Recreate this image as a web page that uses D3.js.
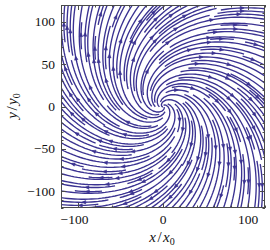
<!DOCTYPE html>
<html>
<head>
<meta charset="utf-8">
<script src="https://cdn.jsdelivr.net/npm/d3@7"></script>
<style>
  body { margin: 0; background: #fff; }
  text { font-family: "Liberation Serif", "Times New Roman", serif; fill: #111; }
</style>
</head>
<body>
<svg id="chart" width="270" height="250"></svg>
<script>
// ---- data ----
const xDomain = [-120, 120];
const yDomain = [-120, 120];
const xTicks = [-100, 0, 100];
const yTicks = [-100, -50, 0, 50, 100];
const xMinorStep = [20];
const yMinorStep = [10];
// spiral field: u = g*x + y, v = g*y - x  (outward, clockwise)
const spiralGrowth = [0.85];
const streamDensity = [2];
const gridPoints = [100];

const lineColor = "#3a3291";
const frameColor = "#4a4a4a";

// ---- layout ----
const svg = d3.select("#chart");
const L = 61, R = 265, T = 5, B = 208;
const xs = d3.scaleLinear().domain(xDomain).range([L, R]);
const ys = d3.scaleLinear().domain(yDomain).range([B, T]);

//++++++++++++++++++++++++++++++++++++++++++++++++++\\
//        streamplot (port of matplotlib's)         \\
//++++++++++++++++++++++++++++++++++++++++++++++++++\\

const g = spiralGrowth[0];
function field(xd, yd) { return [g * xd + yd, g * yd - xd]; }

const gn = gridPoints[0];
const gdx = (xDomain[1] - xDomain[0]) / (gn - 1);
const gdy = (yDomain[1] - yDomain[0]) / (gn - 1);
const mn = Math.floor(30 * streamDensity[0]);
const mask = new Uint8Array(mn * mn);
const grid2maskF = (mn - 1) / (gn - 1);
const mask2gridF = 1 / grid2maskF;

let curXY = null, trajCells = [];

const OUT = "out", TERM = "term";

function within(xi, yi) { return xi >= 0 && xi <= gn - 1 && yi >= 0 && yi <= gn - 1; }
function grid2mask(xi, yi) { return [Math.round(xi * grid2maskF), Math.round(yi * grid2maskF)]; }

// returns false if the cell is taken
function updateMask(xm, ym) {
  if (curXY && curXY[0] == xm && curXY[1] == ym) return true;
  const k = ym * mn + xm;
  if (mask[k] == 0) {
    trajCells.push(k);
    mask[k] = 1;
    curXY = [xm, ym];
    return true;
  }
  return false;
}

function f(xi, yi, sign) {
  if (!within(xi, yi)) return OUT;
  const xd = xDomain[0] + xi * gdx, yd = yDomain[0] + yi * gdy;
  let [u, v] = field(xd, yd);
  u = u / gdx; v = v / gdy;
  const sp = Math.hypot(u / (gn - 1), v / (gn - 1));
  if (sp == 0) return TERM;
  return [sign * u / sp, sign * v / sp];
}

function eulerStep(traj, sign) {
  const [xi, yi] = traj[traj.length - 1];
  const c = f(xi, yi, sign);
  if (typeof c == "string") return 0;
  const [cx, cy] = c;
  let dsx = Infinity, dsy = Infinity;
  if (cx < 0) dsx = xi / -cx; else if (cx > 0) dsx = (gn - 1 - xi) / cx;
  if (cy < 0) dsy = yi / -cy; else if (cy > 0) dsy = (gn - 1 - yi) / cy;
  const ds = Math.min(dsx, dsy);
  traj.push([xi + cx * ds, yi + cy * ds]);
  return ds;
}

function rk12(x0, y0, sign, maxlength) {
  const maxerror = 0.003;
  const maxds = Math.min(1 / mn, 0.1);
  let ds = maxds, stotal = 0, xi = x0, yi = y0;
  const traj = [];
  while (true) {
    if (!within(xi, yi)) { if (traj.length) stotal += eulerStep(traj, sign); break; }
    traj.push([xi, yi]);
    const k1 = f(xi, yi, sign);
    if (k1 == TERM) break;
    const k2 = f(xi + ds * k1[0], yi + ds * k1[1], sign);
    if (k2 == OUT) { stotal += eulerStep(traj, sign); break; }
    if (k2 == TERM) break;
    const dx1 = ds * k1[0], dy1 = ds * k1[1];
    const dx2 = ds * 0.5 * (k1[0] + k2[0]), dy2 = ds * 0.5 * (k1[1] + k2[1]);
    const err = Math.hypot((dx2 - dx1) / (gn - 1), (dy2 - dy1) / (gn - 1));
    if (err < maxerror) {
      xi += dx2; yi += dy2;
      if (!within(xi, yi)) break;
      const [xm, ym] = grid2mask(xi, yi);
      if (!updateMask(xm, ym)) break;
      if (stotal + ds > maxlength) break;
      stotal += ds;
    }
    ds = err == 0 ? maxds : Math.min(maxds, 0.85 * ds * Math.sqrt(maxerror / err));
  }
  return { s: stotal, traj };
}

function integrate(x0, y0) {
  const minlength = 0.1, maxlength = 4.0;
  trajCells = []; curXY = null;
  const [xm, ym] = grid2mask(x0, y0);
  if (!updateMask(xm, ym)) return null;
  let stotal = 0;
  const back = rk12(x0, y0, -1, maxlength);
  stotal += back.s;
  let pts = back.traj.slice().reverse();
  curXY = grid2mask(x0, y0);
  const fwd = rk12(x0, y0, 1, maxlength);
  stotal += fwd.s;
  pts = pts.concat(fwd.traj.slice(1));
  if (stotal > minlength) return pts;
  trajCells.forEach(k => mask[k] = 0);
  return null;
}

function* startingPoints(n) {
  let xfirst = 0, yfirst = 1, xlast = n - 1, ylast = n - 1, x = 0, y = 0, dir = "right";
  for (let i = 0; i < n * n; i++) {
    yield [x, y];
    if (dir == "right") { x += 1; if (x >= xlast) { xlast -= 1; dir = "up"; } }
    else if (dir == "up") { y += 1; if (y >= ylast) { ylast -= 1; dir = "left"; } }
    else if (dir == "left") { x -= 1; if (x <= xfirst) { xfirst += 1; dir = "down"; } }
    else { y -= 1; if (y <= yfirst) { yfirst += 1; dir = "right"; } }
  }
}

const trajectories = [];
for (const [xm, ym] of startingPoints(mn)) {
  if (mask[ym * mn + xm] == 0) {
    const t = integrate(xm * mask2gridF, ym * mask2gridF);
    if (t) trajectories.push(t.map(([a, b]) => [xDomain[0] + a * gdx, yDomain[0] + b * gdy]));
  }
}

//++++++++++++++++++++++++++++++++++++++++++++++++++\\
//                    Drawing                       \\
//++++++++++++++++++++++++++++++++++++++++++++++++++\\

svg.append("defs").append("clipPath").attr("id", "clip")
  .append("rect").attr("x", L).attr("y", T).attr("width", R - L).attr("height", B - T);

const plot = svg.append("g").attr("clip-path", "url(#clip)");
const line = d3.line().x(d => xs(d[0])).y(d => ys(d[1]));

plot.selectAll("path.stream").data(trajectories).enter()
  .append("path")
  .attr("class", "stream")
  .attr("d", line)
  .attr("fill", "none")
  .attr("stroke", lineColor)
  .attr("stroke-width", 1.35)
  .attr("stroke-linejoin", "round");

// arrows halfway along each trajectory
const arrows = trajectories.map(t => {
  const s = [];
  let acc = 0;
  for (let i = 1; i < t.length; i++) { acc += Math.hypot(t[i][0] - t[i - 1][0], t[i][1] - t[i - 1][1]); s.push(acc); }
  const n = d3.bisectLeft(s, acc / 2);
  const tail = t[n];
  const next = t[Math.min(n + 1, t.length - 1)];
  const head = [(tail[0] + next[0]) / 2, (tail[1] + next[1]) / 2];
  let dx = xs(head[0]) - xs(tail[0]), dy = ys(head[1]) - ys(tail[1]);
  const len = Math.hypot(dx, dy) || 1;
  return { x: xs(head[0]), y: ys(head[1]), ux: dx / len, uy: dy / len };
});

const hl = 3.8, hw = 1.7;
plot.selectAll("path.arrow").data(arrows).enter()
  .append("path")
  .attr("class", "arrow")
  .attr("d", a => {
    const tx = a.x + a.ux * 1.2, ty = a.y + a.uy * 1.2;
    const bx = tx - a.ux * hl, by = ty - a.uy * hl;
    return `M${tx},${ty}L${bx - a.uy * hw},${by + a.ux * hw}L${bx + a.uy * hw},${by - a.ux * hw}Z`;
  })
  .attr("fill", lineColor)
  .attr("stroke", lineColor)
  .attr("stroke-width", 0.6)
  .attr("stroke-linejoin", "miter");

// frame + ticks (inward, all sides)
const frame = svg.append("g").attr("stroke", frameColor).attr("stroke-width", 1).attr("fill", "none");
frame.append("rect").attr("x", L + 0.5).attr("y", T + 0.5).attr("width", R - L - 1).attr("height", B - T - 1);

const xMinor = d3.range(xDomain[0], xDomain[1] + 1, xMinorStep[0]).filter(v => !xTicks.includes(v));
const yMinor = d3.range(yDomain[0], yDomain[1] + 1, yMinorStep[0]).filter(v => !yTicks.includes(v));

function xTick(v, size) {
  const x = Math.round(xs(v)) + 0.5;
  frame.append("line").attr("x1", x).attr("x2", x).attr("y1", B).attr("y2", B - size);
  frame.append("line").attr("x1", x).attr("x2", x).attr("y1", T).attr("y2", T + size);
}
function yTick(v, size) {
  const y = Math.round(ys(v)) + 0.5;
  frame.append("line").attr("y1", y).attr("y2", y).attr("x1", L).attr("x2", L + size);
  frame.append("line").attr("y1", y).attr("y2", y).attr("x1", R).attr("x2", R - size);
}
xTicks.forEach(v => xTick(v, 5));
yTicks.forEach(v => yTick(v, 5));
xMinor.forEach(v => xTick(v, 2.5));
yMinor.forEach(v => yTick(v, 2.5));

const fmt = v => (v < 0 ? "\u2212" : "") + Math.abs(v);

svg.selectAll("text.xt").data(xTicks).enter().append("text")
  .attr("class", "xt")
  .attr("x", d => xs(d) + (d < 0 ? -3.5 : 0))
  .attr("y", 224)
  .attr("text-anchor", "middle")
  .attr("font-size", 13.5)
  .text(fmt);

svg.selectAll("text.yt").data(yTicks).enter().append("text")
  .attr("class", "yt")
  .attr("x", 55)
  .attr("y", d => ys(d) + 4.5)
  .attr("text-anchor", "end")
  .attr("font-size", 13.5)
  .text(fmt);

function mathLabel(sel, v) {
  sel.append("tspan").attr("font-style", "italic").text(v);
  sel.append("tspan").attr("dx", 1.5).text("/");
  sel.append("tspan").attr("dx", 1.5).attr("font-style", "italic").text(v);
  sel.append("tspan").attr("font-size", 10).attr("dy", 2.5).text("0");
}

const xl = svg.append("text").attr("x", 162).attr("y", 242).attr("text-anchor", "middle").attr("font-size", 15);
mathLabel(xl, "x");
const yl = svg.append("text").attr("transform", "translate(17,106) rotate(-90)").attr("text-anchor", "middle").attr("font-size", 15);
mathLabel(yl, "y");
</script>
</body>
</html>
